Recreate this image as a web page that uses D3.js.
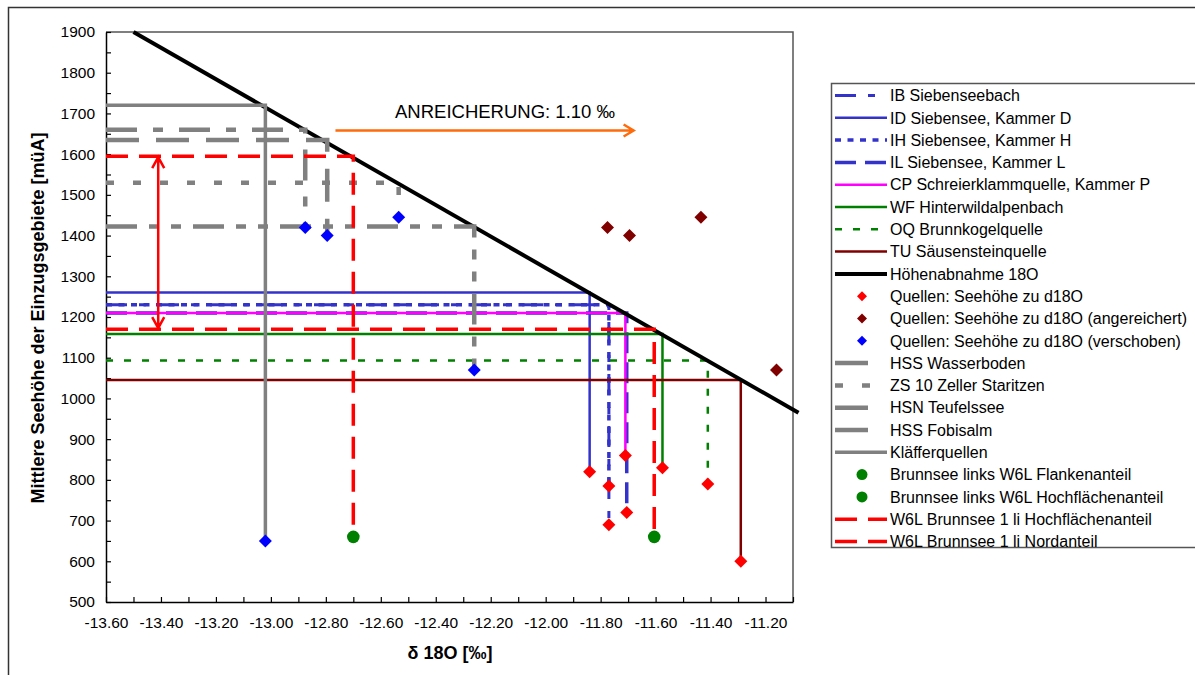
<!DOCTYPE html>
<html>
<head>
<meta charset="utf-8">
<script src="https://cdn.jsdelivr.net/npm/d3@7"></script>
<style>
  body { margin: 0; background: #fff; }
  svg { display: block; font-family: "Liberation Sans", Arial, sans-serif; }
</style>
</head>
<body>
<svg id="root" width="1195" height="675"></svg>
<script>
const xTicks = [-13.6, -13.4, -13.2, -13.0, -12.8, -12.6, -12.4, -12.2, -12.0, -11.8, -11.6, -11.4, -11.2]
const yTicks = [500, 600, 700, 800, 900, 1000, 1100, 1200, 1300, 1400, 1500, 1600, 1700, 1800, 1900]

const legendLabels = [
  "IB Siebenseebach",
  "ID Siebensee, Kammer D",
  "IH Siebensee, Kammer H",
  "IL Siebensee, Kammer L",
  "CP Schreierklammquelle, Kammer P",
  "WF Hinterwildalpenbach",
  "OQ Brunnkogelquelle",
  "TU Säusensteinquelle",
  "Höhenabnahme 18O",
  "Quellen: Seehöhe zu d18O",
  "Quellen: Seehöhe zu d18O (angereichert)",
  "Quellen: Seehöhe zu d18O (verschoben)",
  "HSS Wasserboden",
  "ZS 10 Zeller Staritzen",
  "HSN Teufelssee",
  "HSS Fobisalm",
  "Kläfferquellen",
  "Brunnsee links W6L Flankenanteil",
  "Brunnsee links W6L Hochflächenanteil",
  "W6L Brunnsee 1 li Hochflächenanteil",
  "W6L Brunnsee 1 li Nordanteil"
]

// [d18O, Seehöhe]
const ibSiebenseebach = [[-13.60, 1230], [-11.77, 1230], [-11.77, 690]]
const idKammerD = [[-13.60, 1260], [-11.84, 1260], [-11.84, 820]]
const ihKammerH = [[-13.60, 1230], [-11.77, 1230], [-11.77, 785]]
const ilKammerL = [[-13.60, 1210], [-11.705, 1210], [-11.705, 720]]
const cpKammerP = [[-13.60, 1210], [-11.71, 1210], [-11.71, 860]]
const wfHinterwildalpenbach = [[-13.60, 1158], [-11.575, 1158], [-11.575, 830]]
const oqBrunnkogelquelle = [[-13.60, 1093], [-11.41, 1093], [-11.41, 790]]
const tuSaeusensteinquelle = [[-13.60, 1045], [-11.29, 1045], [-11.29, 600]]
const hoehenabnahme = [[-13.50, 1900], [-11.08, 965]]
const quellen = [[-11.84, 820], [-11.77, 785], [-11.77, 690], [-11.71, 860], [-11.705, 720], [-11.575, 830], [-11.41, 790], [-11.29, 600]]
const quellenAngereichert = [[-11.775, 1420], [-11.695, 1400], [-11.435, 1445], [-11.16, 1070]]
const quellenVerschoben = [[-13.02, 650], [-12.875, 1420], [-12.795, 1400], [-12.535, 1445], [-12.26, 1070]]
const hssWasserboden = [[-13.60, 1660], [-12.875, 1660], [-12.875, 1420]]
const zs10Staritzen = [[-13.60, 1530], [-12.535, 1530], [-12.535, 1445]]
const hsnTeufelssee = [[-13.60, 1635], [-12.795, 1635], [-12.795, 1400]]
const hssFobisalm = [[-13.60, 1422], [-12.26, 1422], [-12.26, 1070]]
const klaefferquellen = [[-13.60, 1720], [-13.02, 1720], [-13.02, 650]]
const brunnseeFlanken = [[-11.605, 660]]
const brunnseeHochflaeche = [[-12.70, 660]]
const w6lHochflaeche = [[-13.60, 1595], [-12.70, 1595], [-12.70, 660]]
const w6lNord = [[-13.60, 1170], [-11.605, 1170], [-11.605, 660]]

const seriesValues = [
  ibSiebenseebach, idKammerD, ihKammerH, ilKammerL, cpKammerP, wfHinterwildalpenbach,
  oqBrunnkogelquelle, tuSaeusensteinquelle, hoehenabnahme, quellen, quellenAngereichert,
  quellenVerschoben, hssWasserboden, zs10Staritzen, hsnTeufelssee, hssFobisalm,
  klaefferquellen, brunnseeFlanken, brunnseeHochflaeche, w6lHochflaeche, w6lNord
]

// Anreicherungspfeil und Spannweite
const enrichArrow = [[-12.765, 1658], [-11.68, 1658]]
const enrichLabel = "ANREICHERUNG: 1.10 ‰"
const rangeArrow = [[-13.41, 1595], [-13.41, 1170]]

// Stil je Serie (gleiche Reihenfolge wie legendLabels)
const styles = [
  { kind: "line", color: "#3333cc", width: 3, dash: "21,12,7,12" },
  { kind: "line", color: "#3333cc", width: 2.5 },
  { kind: "line", color: "#3333cc", width: 3.5, dash: "6,6.5" },
  { kind: "line", color: "#3333cc", width: 3.5, dash: "21,9" },
  { kind: "line", color: "#ff00ff", width: 2.5 },
  { kind: "line", color: "#008000", width: 2.5 },
  { kind: "line", color: "#008000", width: 2.5, dash: "7,11" },
  { kind: "line", color: "#800000", width: 2.5 },
  { kind: "line", color: "#000000", width: 4 },
  { kind: "diamond", color: "#ff0000" },
  { kind: "diamond", color: "#800000" },
  { kind: "diamond", color: "#0000ff" },
  { kind: "line", color: "#808080", width: 4.5, dash: "31,16,10,16", short: true },
  { kind: "line", color: "#808080", width: 4.5, dash: "8,19" },
  { kind: "line", color: "#808080", width: 4.5, dash: "33,17", short: true },
  { kind: "line", color: "#808080", width: 4.5, dash: "31,12,10,12,10,12", short: true },
  { kind: "line", color: "#808080", width: 3.5 },
  { kind: "circle", color: "#008000" },
  { kind: "circle", color: "#008000" },
  { kind: "line", color: "#ff0000", width: 3.5, dash: "22,11" },
  { kind: "line", color: "#ff0000", width: 3.5, dash: "22,11" }
]

const svg = d3.select("#root")

// Rahmen um das ganze Diagramm
svg.append("rect")
  .attr("x", 8.5).attr("y", 7.5)
  .attr("width", 1300).attr("height", 800)
  .attr("fill", "none").attr("stroke", "#333").attr("stroke-width", 1.5)

const plot = { left: 106, right: 793, top: 32, bottom: 602 }
const x = d3.scaleLinear([-13.6, -11.1], [plot.left, plot.right])
const y = d3.scaleLinear([500, 1900], [plot.bottom, plot.top])

// Plotbereich (oben und rechts)
svg.append("path")
  .attr("d", `M${plot.left},${plot.top}H${plot.right}V${plot.bottom}`)
  .attr("fill", "none").attr("stroke", "#555").attr("stroke-width", 1.5)

// Achsen
const minorX = d3.range(0, 26).map(i => -13.6 + i * 0.1)
const xLabelSet = new Set(xTicks.map(d => d.toFixed(2)))
const xAxis = d3.axisBottom(x)
  .tickValues(minorX)
  .tickSizeInner(-5).tickSizeOuter(0).tickPadding(15)
  .tickFormat(d => xLabelSet.has(d.toFixed(2)) ? d.toFixed(2) : "")
const gx = svg.append("g").attr("transform", `translate(0,${plot.bottom})`).call(xAxis)

const minorY = d3.range(500, 1901, 50)
const yAxis = d3.axisLeft(y)
  .tickValues(minorY)
  .tickSizeInner(-5).tickSizeOuter(0).tickPadding(11)
  .tickFormat(d => yTicks.includes(d) ? String(d) : "")
const gy = svg.append("g").attr("transform", `translate(${plot.left},0)`).call(yAxis)

for (const g of [gx, gy]) {
  g.select(".domain").attr("stroke", "#000").attr("stroke-width", 1.5)
  g.selectAll(".tick line").attr("stroke", "#000").attr("stroke-width", 1.2)
  g.selectAll(".tick text").attr("fill", "#000")
    .style("font-size", "15.5px").style("font-family", "'Liberation Sans', Arial, sans-serif")
}

// Achsentitel
svg.append("text")
  .attr("x", 450).attr("y", 659)
  .attr("text-anchor", "middle")
  .style("font-size", "18px").style("font-weight", "bold")
  .text("δ 18O [‰]")

svg.append("text")
  .attr("transform", "translate(44,318) rotate(-90)")
  .attr("text-anchor", "middle")
  .style("font-size", "18px").style("font-weight", "bold")
  .text("Mittlere Seehöhe der Einzugsgebiete [müA]")

const line = d3.line()
  .x(d => x(d[0]))
  .y(d => y(d[1]))

// Linien zuerst, Marker oben drauf
styles.forEach((s, i) => {
  if (s.kind != "line") {
    return
  }
  svg.append("path")
    .datum(seriesValues[i])
    .attr("d", line)
    .attr("fill", "none")
    .attr("stroke", s.color)
    .attr("stroke-width", s.width)
    .attr("stroke-dasharray", s.dash || null)
})

// Pfeile
function arrowHead(p, dir, size, half) {
  // offene Pfeilspitze am Punkt p in Richtung dir
  const [dx, dy] = dir
  const bx = p[0] - dx * size, by = p[1] - dy * size
  const nx = -dy * half, ny = dx * half
  return `M${bx + nx},${by + ny}L${p[0]},${p[1]}L${bx - nx},${by - ny}`
}

const ra = rangeArrow.map(d => [x(d[0]), y(d[1])])
svg.append("path")
  .attr("d", `M${ra[0][0]},${ra[0][1] + 1}L${ra[1][0]},${ra[1][1] - 1}`
    + arrowHead([ra[0][0], ra[0][1] + 1], [0, -1], 11, 6)
    + arrowHead([ra[1][0], ra[1][1] - 1], [0, 1], 11, 6))
  .attr("fill", "none").attr("stroke", "#ff0000").attr("stroke-width", 2.5)

const ea = enrichArrow.map(d => [x(d[0]), y(d[1])])
svg.append("path")
  .attr("d", `M${ea[0][0]},${ea[0][1]}L${ea[1][0]},${ea[1][1]}` + arrowHead(ea[1], [1, 0], 10, 6))
  .attr("fill", "none").attr("stroke", "#ff6a0a").attr("stroke-width", 2.5)

svg.append("text")
  .attr("x", 395).attr("y", 117.5)
  .style("font-size", "18.5px")
  .text(enrichLabel)

const diamond = "M0,-6.5L6.5,0L0,6.5L-6.5,0Z"
styles.forEach((s, i) => {
  if (s.kind == "diamond") {
    svg.append("g").selectAll("path")
      .data(seriesValues[i])
      .join("path")
      .attr("d", diamond)
      .attr("transform", d => `translate(${x(d[0])},${y(d[1])})`)
      .attr("fill", s.color)
  }
  else if (s.kind == "circle") {
    svg.append("g").selectAll("circle")
      .data(seriesValues[i])
      .join("circle")
      .attr("cx", d => x(d[0]))
      .attr("cy", d => y(d[1]))
      .attr("r", 6.3)
      .attr("fill", s.color)
  }
})

// Legende
const legend = svg.append("g")
legend.append("rect")
  .attr("x", 831.5).attr("y", 83.5)
  .attr("width", 500).attr("height", 464)
  .attr("fill", "#fff").attr("stroke", "#555").attr("stroke-width", 1.5)

const rowY = i => 95.5 + i * 22.3
legendLabels.forEach((label, i) => {
  const s = styles[i]
  const cy = rowY(i)
  if (s.kind == "line") {
    legend.append("line")
      .attr("x1", 835).attr("x2", s.short ? 868 : 887)
      .attr("y1", cy).attr("y2", cy)
      .attr("stroke", s.color)
      .attr("stroke-width", s.kind == "line" && s.width > 4 ? 4.5 : s.width)
      .attr("stroke-dasharray", s.short ? null : (s.dash || null))
  }
  else if (s.kind == "diamond") {
    legend.append("path")
      .attr("d", "M0,-5L5,0L0,5L-5,0Z")
      .attr("transform", `translate(862,${cy})`)
      .attr("fill", s.color)
  }
  else {
    legend.append("circle")
      .attr("cx", 862).attr("cy", cy).attr("r", 5.5)
      .attr("fill", s.color)
  }
  legend.append("text")
    .attr("x", 890).attr("y", cy).attr("dy", "0.36em")
    .style("font-size", "16px")
    .text(label)
})
</script>
</body>
</html>
